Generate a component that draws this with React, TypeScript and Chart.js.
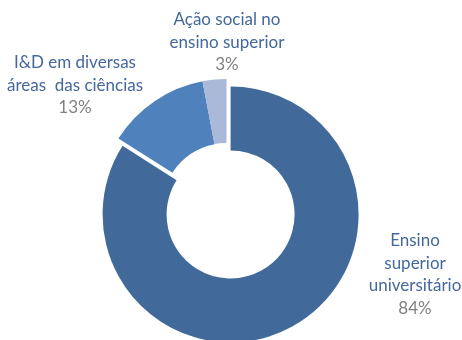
import React, { useEffect, useRef } from "react";
import { Chart, registerables } from "chart.js";

Chart.register(...registerables);

// ---- data ----
const categories: string[][] = [
  ["Ensino", "superior", "universitário"],
  ["I&D em diversas", "áreas  das ciências"],
  ["Ação social no", "ensino superior"],
];
const shares: number[] = [84, 13, 3];

// ---- styling / layout (not data) ----
const sliceColors = ["#416a9b", "#4f81bd", "#aab9d7"];
const explode = [8.5, 0, 0]; // pull-out distance of each slice, px
// label block anchor (center x, first-line center y) relative to the doughnut centre
const labelAnchors: [number, number][] = [
  [188.5, 33.7],
  [-151.5, -144.3],
  [0.5, -187],
];
const LINE_H = 22.5;
const FONT = '17px Lato, "Noto Sans", sans-serif';

// moves exploded slices outward along their mid-angle without enlarging them
const explodePlugin = {
  id: "explodeSlices",
  afterUpdate(chart: any) {
    const meta = chart.getDatasetMeta(0);
    meta.data.forEach((arc: any, i: number) => {
      const d = explode[i] || 0;
      if (!d) return;
      const mid = (arc.startAngle + arc.endAngle) / 2;
      arc.x += Math.cos(mid) * d;
      arc.y += Math.sin(mid) * d;
    });
  },
};

const labelPlugin = {
  id: "outerLabels",
  afterDatasetsDraw(chart: any) {
    const ctx = chart.ctx;
    const area = chart.chartArea;
    const ox = (area.left + area.right) / 2;
    const oy = (area.top + area.bottom) / 2;
    const total = shares.reduce((a, b) => a + b, 0);
    ctx.save();
    ctx.font = FONT;
    ctx.textAlign = "center";
    ctx.textBaseline = "middle";
    shares.forEach((v, i) => {
      const cx = ox + labelAnchors[i][0];
      let y = oy + labelAnchors[i][1];
      ctx.fillStyle = "#44689c";
      for (const line of categories[i]) {
        ctx.fillText(line, cx, y);
        y += LINE_H;
      }
      ctx.fillStyle = "#808080";
      ctx.fillText(Math.round((v / total) * 100) + "%", cx, y);
    });
    ctx.restore();
  },
};

export default function App() {
  const ref = useRef<HTMLCanvasElement | null>(null);
  useEffect(() => {
    if (!ref.current) return;
    const chart = new Chart(ref.current, {
      type: "doughnut",
      data: {
        labels: categories.map((c) => c.join(" ")),
        datasets: [
          {
            data: shares,
            backgroundColor: sliceColors,
            borderWidth: 0,
          },
        ],
      },
      options: {
        responsive: false,
        animation: false,
        radius: 128,
        cutout: "50%",
        layout: { padding: { left: 0, right: 9, top: 74, bottom: 0 } },
        plugins: {
          legend: { display: false },
          tooltip: { enabled: false },
        },
      } as any,
      plugins: [explodePlugin, labelPlugin],
    });
    return () => chart.destroy();
  }, []);
  return (
    <div style={{ position: "fixed", left: 0, top: 0, width: 462, height: 340, background: "#fff" }}>
      <canvas ref={ref} width={462} height={340} style={{ display: "block" }} />
    </div>
  );
}
